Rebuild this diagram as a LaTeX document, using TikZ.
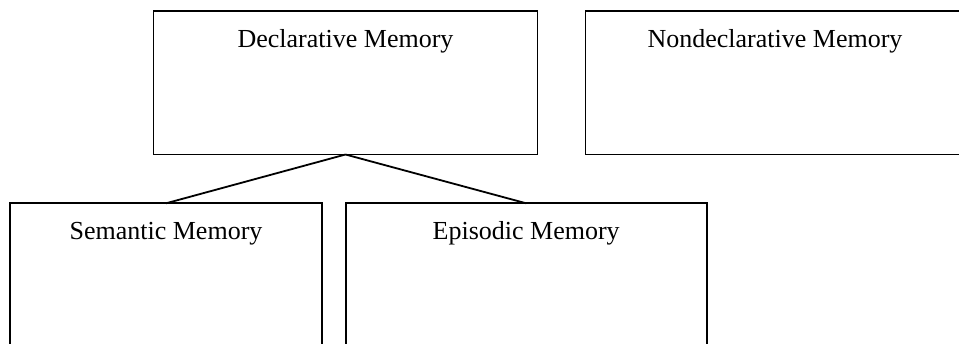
\documentclass[tikz,border=0pt]{standalone}
\usepackage{fontspec}
\setmainfont{Liberation Serif}
\tikzset{memory/.style={draw, line width=1.8pt, anchor=north west, outer sep=0pt,
  inner xsep=0pt, inner ysep=11pt, text height=25pt, text depth=96.5pt,
  font=\fontsize{26}{30}\selectfont}}
\begin{document}
\begin{tikzpicture}[x=1pt,y=-1pt]
\useasboundingbox (0,0) rectangle (959,343);
\node[memory, minimum width=384pt] (decl) at (153.5,11) {Declarative Memory};
\node[memory, minimum width=379pt] (nondecl) at (585.5,11) {Nondeclarative Memory};
\node[memory, minimum width=312pt] (sem) at (10,203.3) {Semantic Memory};
\node[memory, minimum width=361pt] (epi) at (345.7,203.3) {Episodic Memory};

\path[draw,line width=1.8pt,-] (decl.south) -- (sem.north);
\path[draw,line width=1.8pt,-] (decl.south) -- (epi.north);
\end{tikzpicture}
\end{document}
